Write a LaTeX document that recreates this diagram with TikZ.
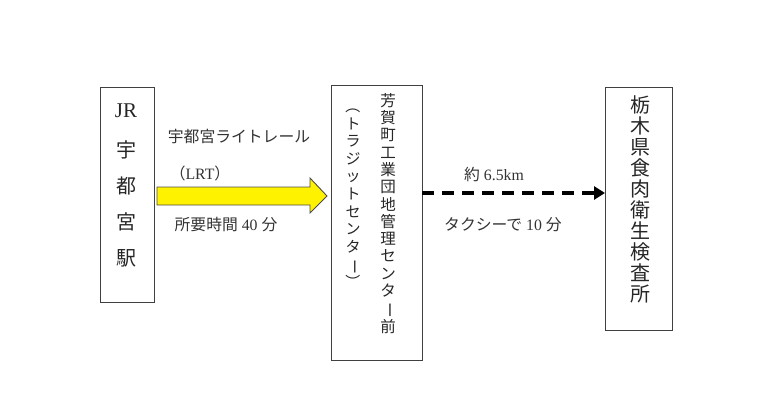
\documentclass[tikz,border=0pt]{standalone}
\usepackage{fontspec}
\setmainfont{Liberation Serif}
\newfontfamily\jp{Noto Sans CJK JP}
\usetikzlibrary{arrows.meta}
\newcommand{\vbar}{\rotatebox[origin=c]{-90}{ー}}
\newcommand{\vlp}{\rotatebox[origin=c]{-90}{（}}
\newcommand{\vrp}{\rotatebox[origin=c]{-90}{）}}
\tikzset{
  boxst/.style={draw=black!75, line width=0.9pt},
  vtext/.style={align=center, inner sep=0pt, text=black!85},
  lab/.style={inner sep=0pt, text=black!80, font=\fontsize{15.8}{17}\selectfont},
}
\begin{document}
\begin{tikzpicture}[x=1pt,y=-1pt]
\useasboundingbox (0,0) rectangle (778,416);
% boxes
\draw[boxst] (100,87) rectangle (154,302);
\draw[boxst] (331,85) rectangle (422,360);
\draw[boxst] (605,87) rectangle (672,330);
\coordinate (b1e) at (154,196);
\coordinate (b2w) at (331,196);
\coordinate (b2e) at (422,193);
\coordinate (b3w) at (605,193);
% box 1 text
\node[vtext, anchor=north, font=\jp\fontsize{20}{36}\selectfont] (t1) at (126,104) {{\rm\fontsize{21}{22}\selectfont JR}\\[4pt]宇\\都\\宮\\駅};
% box 2 text
\node[vtext, anchor=north, font=\jp\fontsize{15.5}{17.3}\selectfont] (t2a) at (388,93) {芳\\賀\\町\\工\\業\\団\\地\\管\\理\\セ\\ン\\タ\\\vbar\\前};
\node[vtext, anchor=north, font=\jp\fontsize{15}{17.6}\selectfont] (t2b) at (353,98) {\vlp\\ト\\ラ\\ジ\\ッ\\ト\\セ\\ン\\タ\\\vbar\\\vrp};
% box 3 text
\node[vtext, anchor=north, font=\jp\fontsize{20}{21}\selectfont] (t3) at (640,95) {栃\\木\\県\\食\\肉\\衛\\生\\検\\査\\所};
% yellow arrow
\filldraw[fill=yellow, draw=black!70, line width=0.9pt]
  (157,187) -- (310,187) -- (310,178) -- (327,196) -- (310,213) -- (310,205) -- (157,205) -- cycle;
% dashed arrow
\draw[line width=3.3pt, dash pattern=on 12pt off 8pt, -{Triangle[length=11pt,width=13pt]}] (b2e) -- (b3w);
% labels
\node[lab] (l1) at (239,136) {\jp 宇都宮ライトレール};
\node[lab] (l2) at (200,173) {\jp （\rm LRT\jp ）};
\node[lab] (l3) at (226,225) {\jp 所要時間\rm{} 40 \jp 分};
\node[lab] (l4) at (494,174) {\jp 約\rm{} 6.5km};
\node[lab] (l5) at (503,225) {\jp タクシーで\rm{} 10 \jp 分};
\end{tikzpicture}
\end{document}
